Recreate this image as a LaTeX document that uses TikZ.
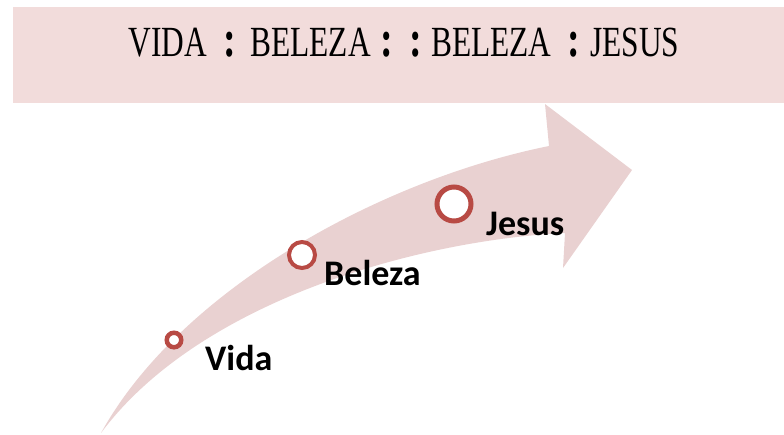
\documentclass[tikz,border=0pt]{standalone}
\usepackage{fontspec}
\setmainfont{Liberation Serif}
\newfontfamily\labelfont{Carlito}
\usetikzlibrary{positioning}
\definecolor{bannerpink}{HTML}{F2DCDB}
\definecolor{arrowpink}{HTML}{E9D1D1}
\definecolor{ringred}{HTML}{B84A44}
\newcommand{\ratio}{{\fontsize{52}{50}\selectfont\bfseries :}}

\begin{document}
\begin{tikzpicture}[
  x=1pt, y=-1pt,
  banner/.style={
    rectangle,
    fill=bannerpink,
    minimum width=771.5pt,
    minimum height=96pt,
    inner sep=0pt
  },
  title/.style={
    anchor=base,
    inner sep=0pt,
    font=\fontsize{43}{50}\selectfont
  },
  ring/.style={
    circle,
    draw=ringred,
    fill=white,
    inner sep=0pt
  },
  stage/.style={
    anchor=base west,
    inner sep=0pt,
    font=\labelfont\bfseries\fontsize{36}{40}\selectfont
  }
]
\useasboundingbox (0,0) rectangle (784,434);

% Banner
\node[banner] (banner) at (398.25,55) {};
\node[title] (title) at (404,56)
  {\scalebox{0.73}[1]{VIDA\hspace{22pt}\ratio\hspace{20pt}BELEZA\hspace{14pt}\ratio\hspace{22pt}\ratio\hspace{12pt}BELEZA\hspace{22pt}\ratio\hspace{14pt}JESUS}};

% Curved arrow
\fill[arrowpink] (101,433) .. controls (180,290) and (380,180) .. (549,146)
  -- (545,104) -- (632,170) -- (563,268) -- (565,233)
  .. controls (420,240) and (200,300) .. (101,433) -- cycle;

% Rings
\node[ring, line width=4.5pt, minimum size=14.5pt] (vidadot) at (174,340) {};
\node[ring, line width=4pt, minimum size=26pt] (belezadot) at (302,255) {};
\node[ring, line width=5pt, minimum size=34pt] (jesusdot) at (454,204) {};

% Labels
\node[stage] (vida) at (205,370) {Vida};
\node[stage] (beleza) at (324,285) {Beleza};
\node[stage] (jesus) at (486,235) {Jesus};

\end{tikzpicture}
\end{document}
